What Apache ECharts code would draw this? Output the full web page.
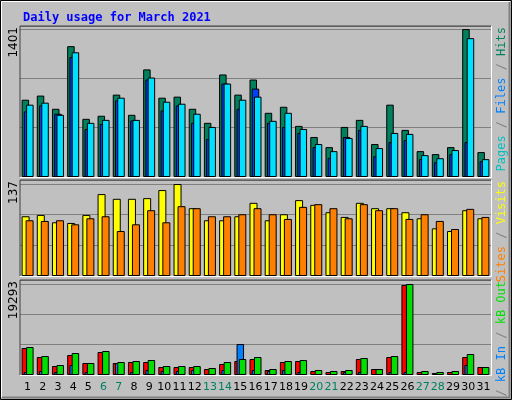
<!DOCTYPE html>
<html>
<head>
<meta charset="utf-8">
<script src="https://cdn.jsdelivr.net/npm/echarts@6/dist/echarts.min.js"></script>
<style>
  html, body { margin: 0; padding: 0; background: #c0c0c0; }
  #chart { width: 512px; height: 400px; }
</style>
</head>
<body>
<div id="chart"></div>
<script>
// data
const days = ['1','2','3','4','5','6','7','8','9','10','11','12','13','14','15','16','17','18','19','20','21','22','23','24','25','26','27','28','29','30','31'];
const weekend = ['6','7','13','14','20','21','27','28'];

const hits  = [732,771,646,1239,551,580,780,589,1019,751,761,646,513,971,780,923,608,665,484,379,283,474,541,312,685,446,245,217,283,1401,236];
const pages = [621,678,599,1137,455,503,726,535,923,630,678,513,360,885,646,837,513,474,417,283,181,379,446,197,331,350,169,140,217,331,150];
const files = [685,704,589,1181,513,541,751,541,942,713,694,599,474,885,732,761,532,608,455,312,245,369,484,274,417,408,207,178,255,1315,169];

const visits = [89,91,80,79,91,122,115,115,116,128,137,101,83,83,89,109,83,92,113,106,95,88,109,101,101,95,86,71,67,98,86];
const sites  = [83,82,83,77,86,89,67,77,98,80,104,101,89,89,92,101,92,85,103,107,101,86,107,98,101,85,92,82,70,100,88];

const kbF   = [5724,3816,1908,4240,2544,4876,2544,2756,2756,1696,1696,1696,1272,2332,2968,3392,1060,2756,2968,848,636,848,3392,1272,3816,19081,636,424,636,3816,1696];
const kbIn  = [636,848,636,2120,636,212,2544,636,1060,848,848,1060,212,1060,6572,1060,848,1060,636,212,212,636,636,212,636,636,212,212,212,2120,212];
const kbOut = [5936,4028,2120,4664,2544,5088,2756,2968,3180,1908,1908,1908,1484,2756,3392,3816,1272,2968,3180,1060,848,1060,3604,1272,4028,19293,848,636,848,4452,1696];

const maxLabels = ['1401', '137', '19293'];

const chart = echarts.init(document.getElementById('chart'));

const panels = [
  { top: 26, height: 151, max: 1430, interval: 467 },
  { top: 180, height: 96, max: 143, interval: 45.67 },
  { top: 280, height: 95, max: 20140, interval: 6431 }
];

function bar(name, data, idx, color, width, gap) {
  return {
    name: name, type: 'bar', xAxisIndex: idx, yAxisIndex: idx, data: data,
    barWidth: width, barGap: gap, animation: false,
    itemStyle: { color: color, borderColor: '#000', borderWidth: 1 }
  };
}

function sideText(y, parts) {
  // rotated legend on the right, reading bottom to top, ending at y
  const rich = {};
  let txt = '';
  parts.forEach((p, i) => {
    rich['c' + i] = { fill: p[1], font: '12px "DejaVu Sans Mono"' };
    txt += '{c' + i + '|' + p[0] + '}';
  });
  return {
    type: 'text', x: 502, y: y, rotation: Math.PI / 2,
    style: { text: txt, rich: rich, align: 'right', verticalAlign: 'middle' }
  };
}

function maxText(y, t) {
  return {
    type: 'text', x: 14, y: y, rotation: Math.PI / 2,
    style: { text: t, fill: '#000', font: '12px "DejaVu Sans"', align: 'right', verticalAlign: 'middle' }
  };
}

const frame = [
  { type: 'rect', shape: { x: 0.5, y: 0.5, width: 511, height: 399 }, style: { fill: '#c0c0c0', stroke: '#000' }, z: -10 },
  { type: 'polyline', shape: { points: [[1.5, 397], [1.5, 1.5], [510, 1.5]] }, style: { stroke: '#fff', lineWidth: 1 }, z: -9 },
  { type: 'polyline', shape: { points: [[2, 397.5], [509.5, 397.5], [509.5, 2]] }, style: { stroke: '#808080', lineWidth: 2 }, z: -9 }
];
panels.forEach(p => {
  frame.push({ type: 'polyline', shape: { points: [[20, p.top + p.height], [20, p.top], [491, p.top]] }, style: { stroke: '#404040', lineWidth: 1 }, z: 20 });
  frame.push({ type: 'polyline', shape: { points: [[20, p.top + p.height + 0.5], [491.5, p.top + p.height + 0.5], [491.5, p.top]] }, style: { stroke: '#fff', lineWidth: 1 }, z: 20 });
});

chart.setOption({
  backgroundColor: '#c0c0c0',
  animation: false,
  title: {
    text: 'Daily usage for March 2021', left: 18, top: 7,
    textStyle: { color: '#0000ff', fontFamily: 'DejaVu Sans Mono', fontSize: 12, fontWeight: 'bold' }
  },
  grid: panels.map(p => ({ left: 20, right: 21, top: p.top, height: p.height, show: true, backgroundColor: '#c0c0c0', borderWidth: 0 })),
  xAxis: panels.map((p, i) => ({
    type: 'category', gridIndex: i, data: days,
    axisLine: { show: false }, axisTick: { show: false },
    axisLabel: i < 2 ? { show: false } : {
      show: true, margin: 7, interval: 0,
      fontFamily: 'DejaVu Sans', fontSize: 11,
      formatter: v => weekend.includes(v) ? '{w|' + v + '}' : v,
      color: '#000',
      rich: { w: { color: '#008060', fontFamily: 'DejaVu Sans', fontSize: 11 } }
    }
  })),
  yAxis: panels.map((p, i) => ({
    type: 'value', gridIndex: i, min: 0, max: p.max, interval: p.interval,
    axisLabel: { show: false }, axisLine: { show: false }, axisTick: { show: false },
    splitLine: { show: true, lineStyle: { color: '#808080', width: 1 } }
  })),
  series: [
    bar('Hits', hits, 0, '#00805c', 7.5, '-70%'),
    bar('Pages', pages, 0, '#0040ff', 7.5, '-70%'),
    bar('Files', files, 0, '#00e0ff', 7.5, '-70%'),
    bar('Visits', visits, 1, '#ffff00', 8, '-50%'),
    bar('Sites', sites, 1, '#ff8000', 8, '-50%'),
    bar('kB F', kbF, 2, '#ff0000', 7.5, '-70%'),
    bar('kB In', kbIn, 2, '#0080ff', 7.5, '-70%'),
    bar('kB Out', kbOut, 2, '#00e000', 7.5, '-70%')
  ],
  graphic: frame.concat([
    maxText(27, maxLabels[0]),
    maxText(181, maxLabels[1]),
    maxText(281, maxLabels[2]),
    sideText(27, [['Pages', '#00c0c0'], [' / ', '#808080'], ['Files', '#0080ff'], [' / ', '#808080'], ['Hits', '#00805c']]),
    sideText(181, [['Sites', '#ff8000'], [' / ', '#808080'], ['Visits', '#ffff00']]),
    sideText(281, [['kB F', '#ff0000'], [' / ', '#808080'], ['kB In', '#0080ff'], [' / ', '#808080'], ['kB Out', '#00e000']])
  ])
});
</script>
</body>
</html>
